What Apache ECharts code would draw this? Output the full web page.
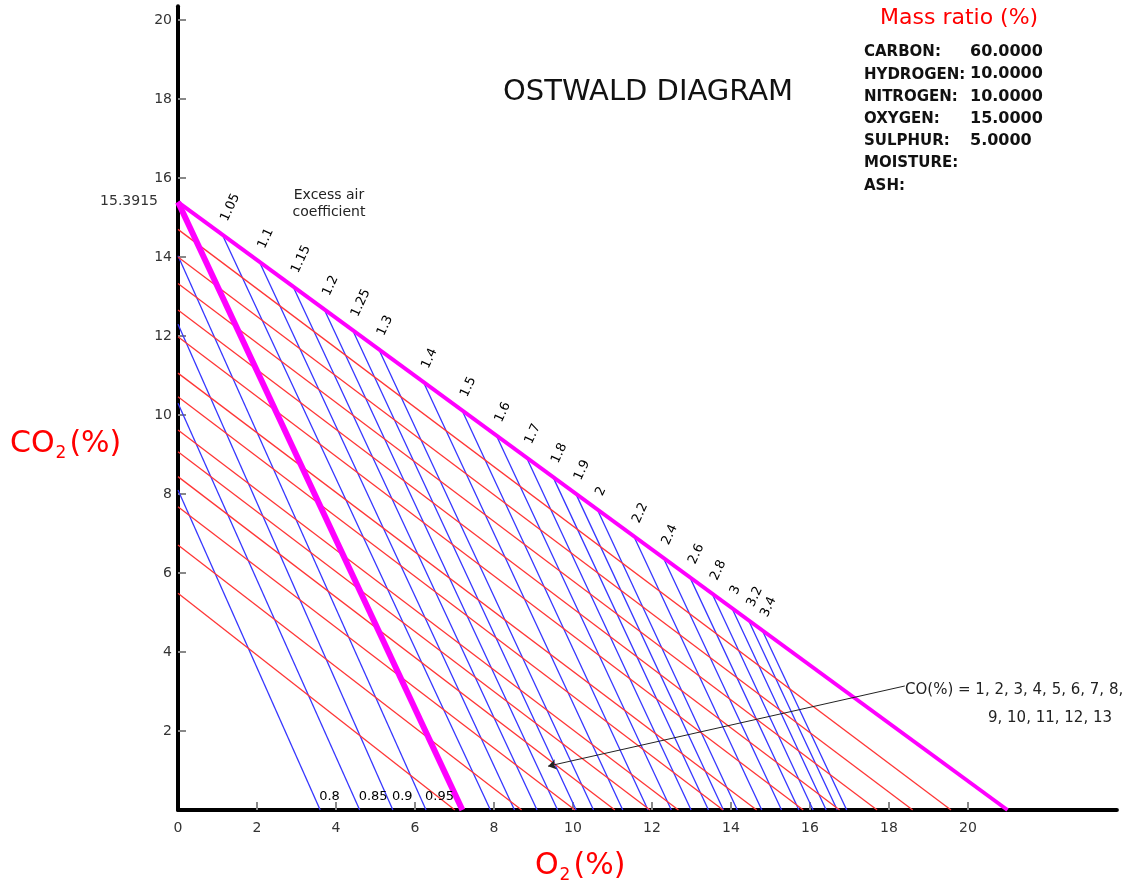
<!DOCTYPE html>
<html><head><meta charset="utf-8">
<script src="https://cdn.jsdelivr.net/npm/echarts@6/dist/echarts.min.js"></script>
<style>html,body{margin:0;padding:0;background:#fff}#c{width:1131px;height:895px}</style>
</head><body><div id="c"></div>
<script>
// ---------- data ----------
const CO2_MAX = 15.3915;          // CO2max on the y axis
const O2_MAX = 21;                // O2 where the CO2max line meets the x axis
const LAMBDA1_END_O2 = 7.2;       // O2 where the lambda = 1 line meets the x axis

// excess air coefficient lines (lambda > 1): start on the CO2max line, end on the O2 axis
const lambdaHigh = ['1.05','1.1','1.15','1.2','1.25','1.3','1.4','1.5','1.6','1.7','1.8','1.9','2','2.2','2.4','2.6','2.8','3','3.2','3.4'];
const lambdaHighStartO2  = [1.12, 2.06, 2.91, 3.70, 4.42, 5.08, 6.21, 7.19, 8.06, 8.82, 9.49, 10.07, 10.61, 11.54, 12.29, 12.96, 13.52, 14.02, 14.44, 14.79];
const lambdaHighStartCO2 = [14.57, 13.88, 13.26, 12.68, 12.15, 11.67, 10.84, 10.12, 9.48, 8.93, 8.44, 8.01, 7.62, 6.93, 6.38, 5.89, 5.48, 5.12, 4.81, 4.55];
const lambdaHighEndO2    = [7.91, 8.52, 9.09, 9.61, 10.08, 10.52, 11.26, 11.90, 12.49, 12.99, 13.43, 13.81, 14.16, 14.78, 15.28, 15.72, 16.08, 16.41, 16.69, 16.93];

// excess air coefficient lines (lambda < 1): start on the CO2 axis, end on the O2 axis
const lambdaLow = ['0.8','0.85','0.9','0.95'];
const lambdaLowStartCO2 = [8.10, 10.30, 12.30, 14.03];
const lambdaLowEndO2    = [3.60, 4.60, 5.44, 6.28];

// CO lines, CO(%) = 1 .. 13 : start on the CO2 axis, end on the O2 axis
const coValues   = [1, 2, 3, 4, 5, 6, 7, 8, 9, 10, 11, 12, 13];
const coStartCO2 = [14.70, 14.00, 13.33, 12.66, 11.98, 11.06, 10.46, 9.62, 9.07, 8.44, 7.68, 6.71, 5.49];
const coEndO2    = [19.57, 18.60, 17.70, 16.75, 15.83, 14.65, 13.80, 12.67, 11.95, 11.06, 10.05, 8.70, 7.01];

// arrow of the CO annotation [start, end] in (O2, CO2)
const coArrow = [[18.4, 3.14], [9.37, 1.11]];

// tick labels
const xTicks = [0, 2, 4, 6, 8, 10, 12, 14, 16, 18, 20];
const yTicks = [2, 4, 6, 8, 10, 12, 14, 16, 18, 20];

// fuel composition box
const massTitle = 'Mass ratio (%)';
const massLabels = ['CARBON:', 'HYDROGEN:', 'NITROGEN:', 'OXYGEN:', 'SULPHUR:', 'MOISTURE:', 'ASH:'];
const massValues = ['60.0000', '10.0000', '10.0000', '15.0000', '5.0000', '', ''];

const chartTitle = 'OSTWALD DIAGRAM';
const excessAirText = 'Excess air\ncoefficient';

// ---------- chart ----------
const FONT = '"DejaVu Sans", Verdana, sans-serif';
const chart = echarts.init(document.getElementById('c'), null, {renderer: 'canvas'});

const blueData = lambdaHigh.map((l, i) => ({coords: [[lambdaHighStartO2[i], lambdaHighStartCO2[i]], [lambdaHighEndO2[i], 0]]}))
  .concat(lambdaLow.map((l, i) => ({coords: [[0, lambdaLowStartCO2[i]], [lambdaLowEndO2[i], 0]]})));
const redData = coValues.map((c, i) => ({coords: [[0, coStartCO2[i]], [coEndO2[i], 0]]}));

function linesSeries(data, color, width, z) {
  return {type: 'lines', coordinateSystem: 'cartesian2d', polyline: false, silent: true, z: z,
    data: data, symbol: 'none', lineStyle: {color: color, width: width, opacity: 1, type: 'solid'}};
}

const highLabelData = lambdaHigh.map((l, i) => [lambdaHighStartO2[i], lambdaHighStartCO2[i]]);
const lowLabelData = lambdaLow.map((l, i) => [lambdaLowEndO2[i], 0]);

const coLine1 = 'CO(%) = ' + coValues.slice(0, 8).join(', ') + ',';
const coLine2 = coValues.slice(8).join(', ');

const richName = {
  a: {fontSize: 30, fontFamily: FONT, fill: '#ff0000', color: '#ff0000', lineHeight: 36, verticalAlign: 'middle'},
  b: {fontSize: 17, fontFamily: FONT, fill: '#ff0000', color: '#ff0000', lineHeight: 14, verticalAlign: 'bottom', padding: [0, 3, 0, 1]}
};

const graphics = [
  {type: 'text', left: 503, top: 78, style: {text: chartTitle, font: '29px ' + FONT, fill: '#111'}},
  {type: 'text', left: 880, top: 7, style: {text: massTitle, font: '22px ' + FONT, fill: '#ff0000'}},
  {type: 'text', x: 329, y: 187, style: {text: excessAirText, font: '14px ' + FONT, fill: '#222', align: 'center', verticalAlign: 'top', lineHeight: 17}},
  {type: 'text', left: 905, top: 683, style: {text: coLine1, font: '15px ' + FONT, fill: '#222'}},
  {type: 'text', left: 988, top: 711, style: {text: coLine2, font: '15px ' + FONT, fill: '#222'}},
  {type: 'text', left: 10, top: 429, style: {text: '{a|CO}{b|2}{a|(%)}', fill: '#ff0000', rich: richName}},
  {type: 'text', left: 535, top: 851, style: {text: '{a|O}{b|2}{a|(%)}', fill: '#ff0000', rich: richName}}
];
massLabels.forEach((lab, i) => {
  graphics.push({type: 'text', left: 864, top: 45 + i * 22.2, style: {text: lab, font: 'bold 15px ' + FONT, fill: '#111'}});
  if (massValues[i]) graphics.push({type: 'text', left: 970, top: 44 + i * 22.2, style: {text: massValues[i], font: 'bold 16px ' + FONT, fill: '#111'}});
});

const option = {
  animation: false,
  backgroundColor: '#fff',
  grid: {left: 178, right: 14.1, top: 6.2, bottom: 85, containLabel: false},
  xAxis: {
    type: 'value', min: 0, max: 23.77, interval: 2,
    splitLine: {show: false},
    axisLine: {show: true, onZero: true, lineStyle: {color: '#000', width: 4}},
    axisTick: {show: true, inside: true, length: 8, customValues: xTicks.filter(v => v > 0), lineStyle: {color: '#888', width: 2}},
    axisLabel: {show: true, customValues: xTicks, color: '#333', fontSize: 14, fontFamily: FONT, margin: 11}
  },
  yAxis: {
    type: 'value', min: 0, max: 20.35, interval: 2,
    splitLine: {show: false},
    axisLine: {show: true, onZero: true, lineStyle: {color: '#000', width: 4}},
    axisTick: {show: true, inside: true, length: 8, customValues: yTicks, lineStyle: {color: '#888', width: 2}},
    axisLabel: {show: true, customValues: yTicks, color: '#333', fontSize: 14, fontFamily: FONT, margin: 6}
  },
  graphic: graphics,
  series: [
    linesSeries(blueData, '#3636ff', 1.3, 2),
    linesSeries(redData, '#ff3636', 1.3, 3),
    linesSeries([{coords: [[0, CO2_MAX], [O2_MAX, 0]]}], '#ff00ff', 4, 4),
    linesSeries([{coords: [[0, CO2_MAX], [LAMBDA1_END_O2, 0]]}], '#ff00ff', 6, 4),
    {type: 'lines', coordinateSystem: 'cartesian2d', silent: true, z: 5,
     data: [{coords: coArrow}], symbol: ['none', 'arrow'], symbolSize: 8,
     lineStyle: {color: '#222', width: 1, opacity: 1}},
    {type: 'custom', coordinateSystem: 'cartesian2d', silent: true, z: 6, data: highLabelData,
     renderItem: function (params, api) {
       const p = api.coord([api.value(0), api.value(1)]);
       return {type: 'text', x: p[0] + 2, y: p[1] - 14, rotation: 65 * Math.PI / 180,
         style: {text: lambdaHigh[params.dataIndex], font: '13px ' + FONT, fill: '#000', align: 'left', verticalAlign: 'middle'}};
     }},
    {type: 'custom', coordinateSystem: 'cartesian2d', silent: true, z: 6, data: lowLabelData,
     renderItem: function (params, api) {
       const p = api.coord([api.value(0), api.value(1)]);
       return {type: 'text', x: p[0] - 1, y: p[1] - 13,
         style: {text: lambdaLow[params.dataIndex], font: '13px ' + FONT, fill: '#000', align: 'left', verticalAlign: 'middle'}};
     }},
    {type: 'custom', coordinateSystem: 'cartesian2d', silent: true, z: 6, data: [[0, CO2_MAX]],
     renderItem: function (params, api) {
       const p = api.coord([api.value(0), api.value(1)]);
       return {type: 'text', x: p[0] - 20, y: p[1] - 1,
         style: {text: String(CO2_MAX), font: '14px ' + FONT, fill: '#333', align: 'right', verticalAlign: 'middle'}};
     }}
  ]
};
chart.setOption(option);
</script>
</body></html>
